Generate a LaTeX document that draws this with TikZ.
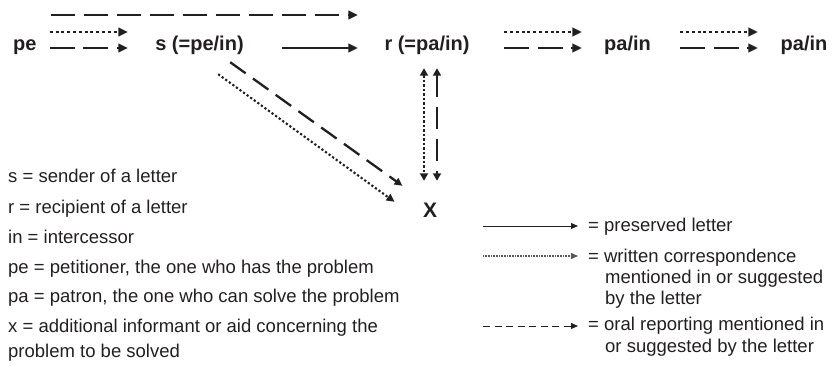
\documentclass[tikz,border=0pt]{standalone}
\usepackage{fontspec}
\setmainfont{Liberation Sans}
\usetikzlibrary{arrows.meta}
\definecolor{ink}{RGB}{35,31,32}
\begin{document}
\begin{tikzpicture}[x=1pt,y=-1pt,
  lab/.style={font=\fontsize{20}{24}\selectfont\bfseries, inner sep=0pt, text height=14pt, text depth=4pt, text=ink},
  leg/.style={font=\fontsize{18.5}{22}\selectfont, inner sep=0pt, anchor=base west, text=ink},
  big/.style={draw=ink, line width=2.3pt, -{Triangle[length=9.5pt,width=8.5pt]}},
  bigsolid/.style={big},
  bigdot/.style={big, dash pattern=on 3pt off 2.8pt},
  bigdash/.style={big, dash pattern=on 25pt off 8.5pt},
  longdash/.style={big, dash pattern=on 24pt off 9pt},
  twodot/.style={draw=ink, line width=2.2pt, {Triangle[length=7.5pt,width=8pt]}-{Triangle[length=7.5pt,width=8pt]}, dash pattern=on 2.3pt off 2.2pt},
  twodash/.style={draw=ink, line width=2.3pt, {Triangle[length=7.5pt,width=8pt]}-{Triangle[length=7.5pt,width=8pt]}, dash pattern=on 22pt off 10pt},
  diagdot/.style={draw=ink, line width=2.1pt, -{Triangle[length=8pt,width=7.5pt]}, dash pattern=on 2.2pt off 2.2pt},
  diagdash/.style={draw=ink, line width=2.3pt, -{Triangle[length=8pt,width=7.5pt]}, dash pattern=on 19pt off 9pt},
  legarrow/.style={draw=ink, line width=1pt, -{Triangle[length=7pt,width=6pt]}},
  legdot/.style={legarrow, draw=ink!75, line width=1.3pt, dash pattern=on 0.9pt off 0.7pt},
  legdash/.style={legarrow, dash pattern=on 7pt off 4.5pt}
]
\useasboundingbox (0,0) rectangle (832,366);

% main nodes
\node[lab, anchor=base west] (pe)  at (13,51)    {pe};
\node[lab, anchor=base]      (s)   at (199.5,51) {s (=pe/in)};
\node[lab, anchor=base]      (r)   at (427,51)   {r (=pa/in)};
\node[lab, anchor=base]      (pa1) at (627.5,51) {pa/in};
\node[lab, anchor=base]      (pa2) at (804,51)   {pa/in};
\node[lab, anchor=base, font=\fontsize{21}{24}\selectfont\bfseries] (x) at (430,217) {X};

% horizontal connectors
\draw[longdash] ([shift={(14,-31)}]pe.east) -- ([shift={(-26.5,-31)}]r.west);
\draw[bigdot]   ([shift={(13,-14)}]pe.east) -- ([shift={(-27.3,-14)}]s.west);
\draw[bigdash]  ([shift={(13,2)}]pe.east)   -- ([shift={(-27.3,2)}]s.west);
\draw[bigsolid] ([shift={(38.3,2)}]s.east)  -- ([shift={(-26.5,2)}]r.west);
\draw[bigdot]   ([shift={(34.5,-14)}]r.east) -- ([shift={(-22.2,-14)}]pa1.west);
\draw[bigdash]  ([shift={(34.5,2)}]r.east)   -- ([shift={(-22.2,2)}]pa1.west);
\draw[bigdot]   ([shift={(29.2,-14)}]pa1.east) -- ([shift={(-22.7,-14)}]pa2.west);
\draw[bigdash]  ([shift={(29.2,2)}]pa1.east)   -- ([shift={(-22.7,2)}]pa2.west);

% vertical connectors r <-> X
\draw[twodot]  ([shift={(-3,13)}]r.south) -- ([shift={(-6,-22)}]x.north);
\draw[twodash] ([shift={(10,13)}]r.south) -- ([shift={(7,-22)}]x.north);

% diagonal connectors s -> X
\draw[diagdash] ([shift={(-13.7,7)}]s.south east)  -- ([shift={(-20.3,-17)}]x.north west);
\draw[diagdot]  ([shift={(-25.7,19)}]s.south east) -- ([shift={(-28.3,-1)}]x.north west);

% left legend
\node[leg] (k1) at (8,182.5) {s = sender of a letter};
\node[leg] (k2) at (8,213.5) {r = recipient of a letter};
\node[leg] (k3) at (8,243)   {in = intercessor};
\node[leg] (k4) at (8,273)   {pe = petitioner, the one who has the problem};
\node[leg] (k5) at (8,302.5) {pa = patron, the one who can solve the problem};
\node[leg] (k6) at (8,332.5) {x = additional informant or aid concerning the};
\node[leg] (k7) at (8,357)   {problem to be solved};

% right legend
\coordinate (a1) at (483,226); \coordinate (b1) at (578,226);
\coordinate (a2) at (483,256); \coordinate (b2) at (578,256);
\coordinate (a3) at (483,326); \coordinate (b3) at (578,326);
\draw[legarrow] (a1) -- (b1);
\draw[legdot]   (a2) -- (b2);
\draw[legdash]  (a3) -- (b3);
\node[leg] (t1)  at (588,231.5) {= preserved letter};
\node[leg] (t2)  at (588,262.5) {= written correspondence};
\node[leg] (t2b) at (605,283.5) {mentioned in or suggested};
\node[leg] (t2c) at (605,304.5) {by the letter};
\node[leg] (t3)  at (588,330.5) {= oral reporting mentioned in};
\node[leg] (t3b) at (605,352.5) {or suggested by the letter};
\end{tikzpicture}
\end{document}
